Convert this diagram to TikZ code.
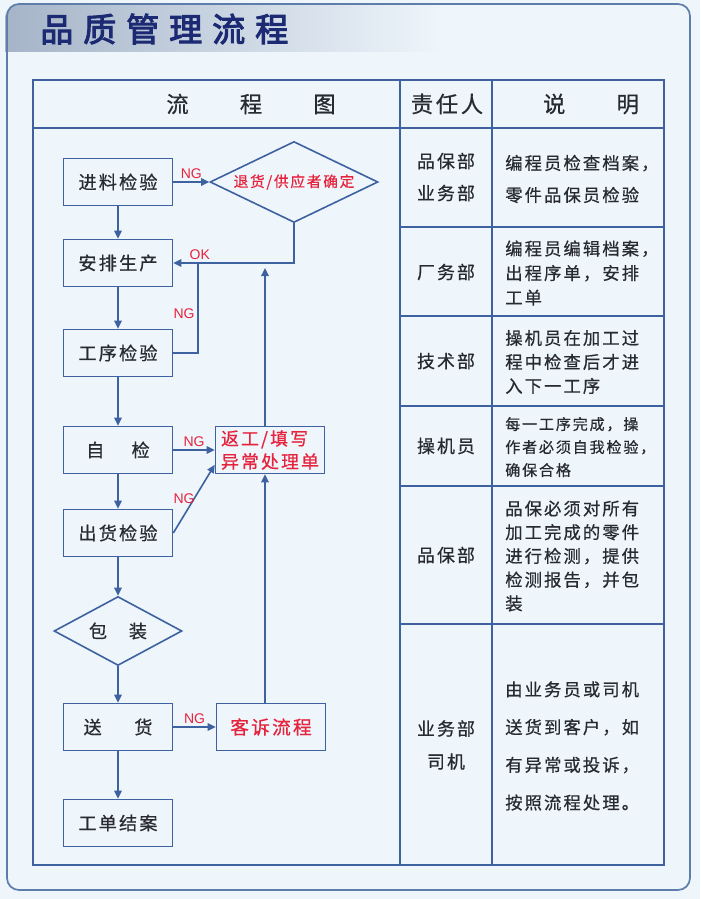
\documentclass[tikz,border=0pt]{standalone}
\usepackage{fontspec}
\setmainfont{Noto Sans CJK SC}[LetterSpace=12,FakeBold=0.6]
\newfontfamily\titlefont{Noto Sans CJK SC}[LetterSpace=30,FakeBold=3]
\newfontfamily\ngfont{Liberation Sans}
\usetikzlibrary{arrows.meta,shapes.geometric}

\definecolor{pagebg}{RGB}{238,245,251}
\definecolor{bandgray}{RGB}{165,180,200}
\definecolor{framecol}{RGB}{95,125,170}
\definecolor{lineblue}{RGB}{62,98,160}
\definecolor{textdark}{RGB}{40,42,50}
\definecolor{redtext}{RGB}{230,35,60}
\definecolor{titlenavy}{RGB}{28,42,115}

\newcommand{\cellfont}[2]{\fontsize{#1}{#2}\selectfont}

\begin{document}
\begin{tikzpicture}[x=0.75pt,y=-0.75pt,
		box/.style={draw=lineblue,line width=1.2pt,minimum width=81.75pt,minimum height=35.25pt,
			inner sep=0pt,text=textdark,font=\cellfont{13.6}{16}},
		redbox/.style={box,text=redtext},
		decision/.style={diamond,draw=lineblue,line width=1.2pt,inner sep=0pt,text=textdark,
			font=\cellfont{13.6}{16}},
		flow/.style={draw=lineblue,line width=1.2pt,-{Triangle[length=6pt,width=5.5pt]}},
		ng/.style={font=\ngfont\cellfont{10.5}{11},text=redtext,inner sep=2pt},
		head/.style={text=textdark,font=\cellfont{16.7}{20}},
		resp/.style={align=center,text=textdark},
		desc/.style={anchor=west,align=left,inner sep=0pt,text=textdark},
		tableline/.style={draw=lineblue,line width=1.2pt}]
		
		\useasboundingbox (0,0) rectangle (700,899);
		\fill[pagebg] (0,0) rectangle (700,899);
		\shade[left color=bandgray,right color=pagebg] (5,52) [rounded corners=11pt]-- (5,4) [sharp corners]-- (440,4) -- (440,52) -- cycle;
		\draw[framecol,line width=1.3pt,rounded corners=9pt] (7,4) rectangle (690,890);
		\node[font=\titlefont\cellfont{24.8}{28},text=titlenavy,anchor=west,inner sep=0pt] (Title) at (40,29) {品质管理流程};
		
		% table
		\draw[tableline] (33,80) rectangle (664,865);
		\draw[tableline] (33,128) -- (664,128);
		\draw[tableline] (400,80) -- (400,865);
		\draw[tableline] (492,80) -- (492,865);
		\foreach \y in {227,316,406,486,624}
			\draw[tableline] (400,\y) -- (664,\y);
		
		\node[head] (HeadFlow) at (251,104) {流\hspace{2.3em}程\hspace{2.3em}图};
		\node[head] (HeadResp) at (447,104) {责任人};
		\node[head] (HeadNote) at (591,104) {说\hspace{2.3em}明};
		
		% flow chart
		\node[box] (Incoming) at (118,182) {进料检验};
		\node[box] (Arrange) at (118,263) {安排生产};
		\node[box] (Process) at (118,353) {工序检验};
		\node[box] (Self) at (118,450) {自\hspace{1.5em}检};
		\node[box] (Outgoing) at (118,533) {出货检验};
		\node[decision,shape aspect=1.86,minimum width=96pt,minimum height=51.75pt] (Pack) at (118,631) {包\hspace{1.2em}装};
		\node[box] (Deliver) at (118,727) {送\hspace{1.8em}货};
		\node[box] (Close) at (118,823) {工单结案};
		
		\node[decision,shape aspect=2.07,minimum width=126pt,minimum height=60.75pt,text=redtext,font=\cellfont{11}{13}] (Return) at (294,182) {退货/供应者确定};
		\node[redbox,align=left,font=\cellfont{13.4}{17.25}] (Rework) at (270,450) {返工/填写\\异常处理单};
		\node[redbox,font=\cellfont{14}{16}] (Complaint) at (271,727) {客诉流程};
		
		\coordinate (OkJoin) at (198,263);
		\coordinate (RiseTop) at (265,268);
		
		\draw[flow] (Incoming) -- (Arrange);
		\draw[flow] (Arrange) -- (Process);
		\draw[flow] (Process) -- (Self);
		\draw[flow] (Self) -- (Outgoing);
		\draw[flow] (Outgoing) -- (Pack);
		\draw[flow] (Pack) -- (Deliver);
		\draw[flow] (Deliver) -- (Close);
		
		\draw[flow] (Incoming) -- node[ng,above] {NG} (Return);
		\draw[flow] (Return.south) |- node[ng,pos=0.89,above] {OK} (Arrange.east);
		\draw[tableline] (Process.east) -| node[ng,pos=0.72,left] {NG} (OkJoin);
		\draw[flow] (Self) -- node[ng,above] {NG} (Rework);
		\draw[flow] (Outgoing.east) -- node[ng,pos=0.5,left,xshift=3pt] {NG} (Rework.195);
		\draw[flow] (Deliver) -- node[ng,above] {NG} (Complaint);
		\draw[flow] (Complaint.north -| RiseTop) -- (Rework.south -| RiseTop);
		\draw[flow] (Rework.north -| RiseTop) -- (RiseTop);
		
		% responsibility and notes
		\node[resp,font=\cellfont{13.4}{24}] (RespA) at (446,177) {品保部\\业务部};
		\node[resp,font=\cellfont{13.4}{24}] (RespB) at (446,272) {厂务部};
		\node[resp,font=\cellfont{13.4}{24}] (RespC) at (446,361) {技术部};
		\node[resp,font=\cellfont{13.4}{24}] (RespD) at (446,446) {操机员};
		\node[resp,font=\cellfont{13.4}{24}] (RespE) at (446,555) {品保部};
		\node[resp,font=\cellfont{13.4}{24.75}] (RespF) at (446,745) {业务部\\司机};
		
		\node[desc,font=\cellfont{13}{24}] (NoteA) at (505,179) {编程员检查档案，\\零件品保员检验};
		\node[desc,font=\cellfont{13}{18.4}] (NoteB) at (505,273) {编程员编辑档案，\\出程序单，安排\\工单};
		\node[desc,font=\cellfont{13}{18}] (NoteC) at (505,362) {操机员在加工过\\程中检查后才进\\入下一工序};
		\node[desc,font=\cellfont{11.3}{17.25}] (NoteD) at (505,447) {每一工序完成，操\\作者必须自我检验，\\确保合格};
		\node[desc,font=\cellfont{13}{17.8}] (NoteE) at (505,556) {品保必须对所有\\加工完成的零件\\进行检测，提供\\检测报告，并包\\装};
		\node[desc,font=\cellfont{13}{28.3}] (NoteF) at (505,746) {由业务员或司机\\送货到客户，如\\有异常或投诉，\\按照流程处理。};
		
		\end{tikzpicture}
\end{document}
